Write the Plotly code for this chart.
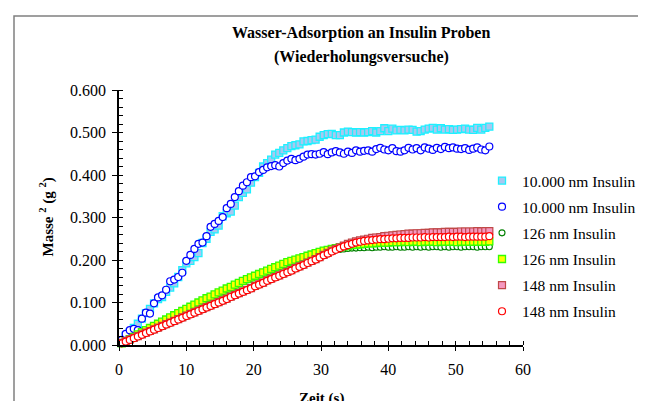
import plotly.graph_objects as go

zeit = [0.4, 1.0, 1.6, 2.2, 2.8, 3.4, 4.0, 4.6, 5.2, 5.8,
        6.4, 7.0, 7.6, 8.2, 8.8, 9.4, 10.0, 10.6, 11.2, 11.8,
        12.4, 13.0, 13.6, 14.2, 14.8, 15.4, 16.0, 16.6, 17.2, 17.8,
        18.4, 19.0, 19.6, 20.2, 20.8, 21.4, 22.0, 22.6, 23.2, 23.8,
        24.4, 25.0, 25.6, 26.2, 26.8, 27.4, 28.0, 28.6, 29.2, 29.8,
        30.4, 31.0, 31.6, 32.2, 32.8, 33.4, 34.0, 34.6, 35.2, 35.8,
        36.4, 37.0, 37.6, 38.2, 38.8, 39.4, 40.0, 40.6, 41.2, 41.8,
        42.4, 43.0, 43.6, 44.2, 44.8, 45.4, 46.0, 46.6, 47.2, 47.8,
        48.4, 49.0, 49.6, 50.2, 50.8, 51.4, 52.0, 52.6, 53.2, 53.8,
        54.4, 55.0]

s_10000_a = [0.010, 0.022, 0.030, 0.040, 0.050, 0.062, 0.075, 0.085, 0.098, 0.108,
             0.113, 0.125, 0.135, 0.145, 0.160, 0.176, 0.192, 0.198, 0.207, 0.216,
             0.240, 0.250, 0.266, 0.272, 0.281, 0.303, 0.310, 0.314, 0.328, 0.348,
             0.358, 0.366, 0.382, 0.395, 0.405, 0.420, 0.428, 0.436, 0.448, 0.452,
             0.458, 0.463, 0.468, 0.470, 0.472, 0.479, 0.480, 0.482, 0.483, 0.490,
             0.494, 0.496, 0.497, 0.494, 0.494, 0.500, 0.502, 0.501, 0.500, 0.501,
             0.500, 0.501, 0.503, 0.500, 0.503, 0.510, 0.503, 0.509, 0.505, 0.506,
             0.505, 0.507, 0.506, 0.502, 0.503, 0.507, 0.509, 0.511, 0.507, 0.510,
             0.507, 0.508, 0.506, 0.507, 0.508, 0.509, 0.507, 0.506, 0.511, 0.507,
             0.511, 0.514]

s_10000_b = [0.012, 0.026, 0.035, 0.038, 0.035, 0.062, 0.076, 0.074, 0.098, 0.112,
             0.117, 0.130, 0.150, 0.154, 0.160, 0.170, 0.198, 0.212, 0.226, 0.238,
             0.241, 0.256, 0.278, 0.285, 0.292, 0.301, 0.322, 0.332, 0.348, 0.362,
             0.375, 0.383, 0.395, 0.397, 0.407, 0.412, 0.418, 0.421, 0.423, 0.420,
             0.428, 0.434, 0.438, 0.435, 0.438, 0.443, 0.448, 0.449, 0.448, 0.450,
             0.454, 0.449, 0.453, 0.456, 0.453, 0.450, 0.455, 0.452, 0.458, 0.455,
             0.457, 0.458, 0.455, 0.461, 0.464, 0.460, 0.458, 0.463, 0.456, 0.455,
             0.458, 0.464, 0.460, 0.463, 0.458, 0.465, 0.462, 0.459, 0.464, 0.461,
             0.466, 0.463, 0.465, 0.462, 0.461, 0.463, 0.459, 0.462, 0.465, 0.460,
             0.458, 0.467]

s_126_a = [0.003, 0.008, 0.013, 0.018, 0.024, 0.029, 0.034, 0.039, 0.044, 0.049,
           0.054, 0.059, 0.064, 0.069, 0.074, 0.079, 0.084, 0.089, 0.094, 0.098,
           0.103, 0.108, 0.112, 0.117, 0.122, 0.126, 0.131, 0.135, 0.140, 0.144,
           0.149, 0.153, 0.157, 0.161, 0.165, 0.169, 0.173, 0.177, 0.181, 0.185,
           0.188, 0.192, 0.195, 0.198, 0.201, 0.204, 0.207, 0.210, 0.213, 0.216,
           0.218, 0.220, 0.222, 0.224, 0.225, 0.226, 0.227, 0.228, 0.228, 0.229,
           0.229, 0.230, 0.229, 0.230, 0.230, 0.231, 0.230, 0.230, 0.231, 0.230,
           0.230, 0.231, 0.230, 0.231, 0.230, 0.231, 0.230, 0.231, 0.231, 0.230,
           0.231, 0.230, 0.231, 0.231, 0.230, 0.231, 0.231, 0.231, 0.230, 0.231,
           0.231, 0.231]

s_126_b = [0.004, 0.009, 0.014, 0.019, 0.025, 0.030, 0.035, 0.040, 0.045, 0.050,
           0.055, 0.060, 0.065, 0.070, 0.075, 0.080, 0.085, 0.090, 0.095, 0.100,
           0.105, 0.110, 0.114, 0.119, 0.124, 0.128, 0.133, 0.137, 0.142, 0.146,
           0.151, 0.155, 0.159, 0.163, 0.167, 0.171, 0.175, 0.179, 0.183, 0.187,
           0.191, 0.195, 0.198, 0.201, 0.204, 0.207, 0.210, 0.213, 0.216, 0.219,
           0.222, 0.224, 0.226, 0.228, 0.230, 0.232, 0.233, 0.235, 0.236, 0.237,
           0.238, 0.239, 0.239, 0.240, 0.241, 0.241, 0.241, 0.242, 0.242, 0.242,
           0.243, 0.242, 0.243, 0.243, 0.242, 0.243, 0.243, 0.243, 0.242, 0.243,
           0.243, 0.243, 0.243, 0.242, 0.243, 0.243, 0.243, 0.243, 0.243, 0.243,
           0.243, 0.244]

s_148_a = [0.005, 0.009, 0.013, 0.017, 0.021, 0.025, 0.029, 0.033, 0.037, 0.041,
           0.045, 0.049, 0.053, 0.057, 0.061, 0.065, 0.069, 0.073, 0.077, 0.081,
           0.085, 0.089, 0.093, 0.097, 0.101, 0.105, 0.109, 0.114, 0.118, 0.122,
           0.126, 0.130, 0.134, 0.139, 0.143, 0.147, 0.152, 0.156, 0.160, 0.164,
           0.168, 0.172, 0.176, 0.181, 0.185, 0.189, 0.194, 0.198, 0.202, 0.207,
           0.212, 0.217, 0.222, 0.226, 0.230, 0.234, 0.238, 0.241, 0.244, 0.246,
           0.248, 0.250, 0.252, 0.253, 0.254, 0.256, 0.257, 0.258, 0.259, 0.260,
           0.261, 0.262, 0.262, 0.263, 0.263, 0.264, 0.264, 0.265, 0.265, 0.265,
           0.266, 0.266, 0.266, 0.266, 0.267, 0.267, 0.267, 0.267, 0.268, 0.267,
           0.268, 0.268]

s_148_b = [0.004, 0.008, 0.012, 0.016, 0.020, 0.024, 0.028, 0.032, 0.036, 0.040,
           0.044, 0.048, 0.052, 0.056, 0.060, 0.064, 0.068, 0.072, 0.076, 0.080,
           0.084, 0.088, 0.092, 0.096, 0.100, 0.104, 0.108, 0.113, 0.117, 0.121,
           0.125, 0.129, 0.133, 0.138, 0.142, 0.146, 0.151, 0.155, 0.159, 0.163,
           0.167, 0.171, 0.175, 0.180, 0.184, 0.188, 0.193, 0.197, 0.201, 0.206,
           0.211, 0.215, 0.220, 0.224, 0.228, 0.232, 0.235, 0.238, 0.241, 0.243,
           0.245, 0.246, 0.247, 0.248, 0.249, 0.249, 0.250, 0.251, 0.251, 0.252,
           0.252, 0.252, 0.253, 0.253, 0.253, 0.254, 0.253, 0.254, 0.254, 0.254,
           0.254, 0.255, 0.254, 0.255, 0.255, 0.254, 0.255, 0.255, 0.255, 0.255,
           0.255, 0.256]

series_names = ["10.000 nm Insulin", "10.000 nm Insulin", "126 nm Insulin",
                "126 nm Insulin", "148 nm Insulin", "148 nm Insulin"]
series_values = [s_10000_a, s_10000_b, s_126_a, s_126_b, s_148_a, s_148_b]

styles = [
    dict(symbol="square", size=7, color="#A8C8F0", line=dict(color="#1EF0FF", width=1.3)),
    dict(symbol="circle", size=7, color="white", line=dict(color="#0000FF", width=1.2)),
    dict(symbol="circle", size=6, color="white", line=dict(color="#008000", width=1.1)),
    dict(symbol="square", size=7, color="#FFFF00", line=dict(color="#33FF00", width=1.3)),
    dict(symbol="square", size=7, color="#F598C0", line=dict(color="#C04848", width=1.2)),
    dict(symbol="circle", size=7, color="white", line=dict(color="#FF0000", width=1.2)),
]

SERIF = "Liberation Serif, Times New Roman, serif"

# figure is placed at an 8px page offset by the browser body margin
W, H = 638, 393
ML, MT, PW, PH = 111, 82, 404, 255


def px(xp):
    return (xp - 8 - ML) / PW


def py(yp):
    return 1 - (yp - 8 - MT) / PH


fig = go.Figure()
for i, (name, vals, st) in enumerate(zip(series_names, series_values, styles)):
    fig.add_trace(go.Scatter(
        x=zeit, y=vals, mode="markers", name=name,
        legendgroup=f"g{i}", marker=st, cliponaxis=False,
    ))

fig.update_layout(
    width=W, height=H,
    margin=dict(l=ML, r=W - ML - PW, t=MT, b=H - MT - PH, autoexpand=False),
    paper_bgcolor="white", plot_bgcolor="white",
    font=dict(family=SERIF, size=16, color="black"),
    showlegend=True,
    legend=dict(x=px(482), xanchor="left", y=0.71, yanchor="top",
                tracegroupgap=3, font=dict(family=SERIF, size=15.5),
                bgcolor="rgba(0,0,0,0)"),
    xaxis=dict(range=[0, 60], dtick=10, showgrid=False, zeroline=False,
               showline=True, linecolor="black", linewidth=1.5,
               ticks="outside", ticklen=4, tickwidth=1.2, tickcolor="black",
               minor=dict(dtick=2, ticks="inside", ticklen=4, tickwidth=1, tickcolor="black"),
               tickfont=dict(family=SERIF, size=16), ticklabelstandoff=5, automargin=False),
    yaxis=dict(range=[0, 0.6], dtick=0.1, tickformat=".3f", showgrid=False, zeroline=False,
               showline=True, linecolor="black", linewidth=1.5,
               ticks="outside", ticklen=5, tickwidth=1.2, tickcolor="black",
               minor=dict(dtick=0.02, ticks="inside", ticklen=4, tickwidth=1, tickcolor="black"),
               tickfont=dict(family=SERIF, size=16), ticklabelstandoff=3, automargin=False),
    annotations=[
        dict(text="<b>Wasser-Adsorption an Insulin Proben</b>",
             xref="paper", yref="paper", x=px(361), y=py(33),
             xanchor="center", yanchor="middle", showarrow=False,
             font=dict(family=SERIF, size=16)),
        dict(text="<b>(Wiederholungsversuche)</b>",
             xref="paper", yref="paper", x=px(361), y=py(57),
             xanchor="center", yanchor="middle", showarrow=False,
             font=dict(family=SERIF, size=16)),
        dict(text="<b>Masse <sup>2</sup> (g <sup>2</sup>)</b>",
             xref="paper", yref="paper", x=px(47), y=0.5,
             xanchor="center", yanchor="middle", textangle=-90, showarrow=False,
             font=dict(family=SERIF, size=15)),
        dict(text="<b>Zeit (s)</b>",
             xref="paper", yref="paper", x=0.5, y=py(398),
             xanchor="center", yanchor="middle", showarrow=False,
             font=dict(family=SERIF, size=15)),
    ],
    shapes=[
        dict(type="rect", xref="paper", yref="paper",
             x0=px(14), x1=px(642), y0=py(440), y1=py(16),
             line=dict(color="#808080", width=1.5), fillcolor="rgba(0,0,0,0)", layer="below"),
    ],
)

fig.write_html("out.html")
